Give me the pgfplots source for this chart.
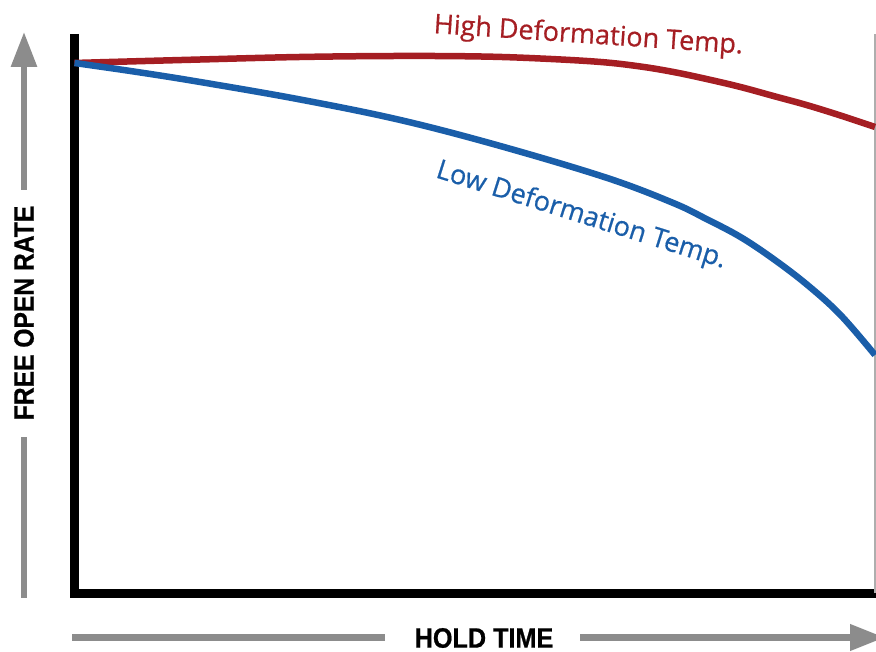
\documentclass[border=0pt]{standalone}
\usepackage{fontspec}
\setmainfont{Open Sans}
\newfontfamily\curvefont[FakeBold=0.6]{Open Sans}
\newfontfamily\axlabelfont[FakeBold=0.8]{Liberation Sans}
\usepackage{pgfplots}
\pgfplotsset{compat=1.18}
\usetikzlibrary{arrows.meta}

\definecolor{hired}{HTML}{A51E23}
\definecolor{loblue}{HTML}{1A5EA9}
\definecolor{arrowgray}{HTML}{8C8C8C}

% curve data, hold time (0-100) vs free open rate (0-100)
\pgfplotstableread{
x y
0 94.82
15.69 95.44
28.19 95.89
40.69 96.07
50.69 95.98
58.19 95.62
65.69 95.00
70.69 94.19
74.81 93.21
78.94 91.96
83.19 90.53
87.31 88.92
91.44 87.31
95.69 85.43
100 83.38
}\hightemp
\pgfplotstableread{
x y
0 94.82
7.81 93.21
15.69 91.42
28.19 88.29
40.69 84.63
53.19 79.98
66.56 74.26
74.81 69.79
78.94 66.93
83.19 63.72
87.31 59.79
91.56 55.14
95.69 49.78
100 42.63
}\lowtemp

\begin{document}
\begin{tikzpicture}[x=1pt,y=1pt]
\useasboundingbox (0,0) rectangle (876,652);

\begin{axis}[
    at={(74.5pt,58.5pt)},
    anchor=south west,
    scale only axis,
    width=800.5pt,
    height=559.5pt,
    xmin=0, xmax=100,
    ymin=0, ymax=100,
    axis lines=none,
    clip=false,
]
% frame: heavy black left/bottom, thin gray right
\draw[black, line width=9pt] (axis cs:0,100) -- (axis cs:0,0) -- (axis cs:100.2,0);
\draw[arrowgray!70, line width=1.5pt] (axis cs:100,0) -- (axis cs:100,100);

\addplot[hired, line width=6.5pt, smooth, tension=0.6] table {\hightemp};
\addplot[loblue, line width=6.5pt, smooth, tension=0.6] table {\lowtemp};

\node[hired, rotate=-3.8, font=\curvefont\fontsize{27}{30}\selectfont]
    at (axis cs:64.2,99.6) {High Deformation Temp.};
\node[loblue, rotate=-17.5, font=\curvefont\fontsize{27}{30}\selectfont]
    at (axis cs:63.3,67.5) {Low Deformation Temp.};
\end{axis}

% axis arrows
\draw[arrowgray, line width=6pt, -{Triangle[length=35pt,width=25pt]}] (24,462) -- (24,620);
\draw[arrowgray, line width=6pt] (24,54) -- (24,215);
\node[rotate=90, font=\axlabelfont\bfseries\fontsize{28}{30}\selectfont]
    at (24,339) {\scalebox{0.88}[1]{FREE OPEN RATE}};

\draw[arrowgray, line width=7pt] (72,14.5) -- (385,14.5);
\draw[arrowgray, line width=7pt, -{Triangle[length=35pt,width=25pt]}] (580,14.5) -- (885,14.5);
\node[font=\axlabelfont\bfseries\fontsize{28}{30}\selectfont]
    at (484,14) {\scalebox{0.9}[1]{HOLD TIME}};
\end{tikzpicture}
\end{document}
